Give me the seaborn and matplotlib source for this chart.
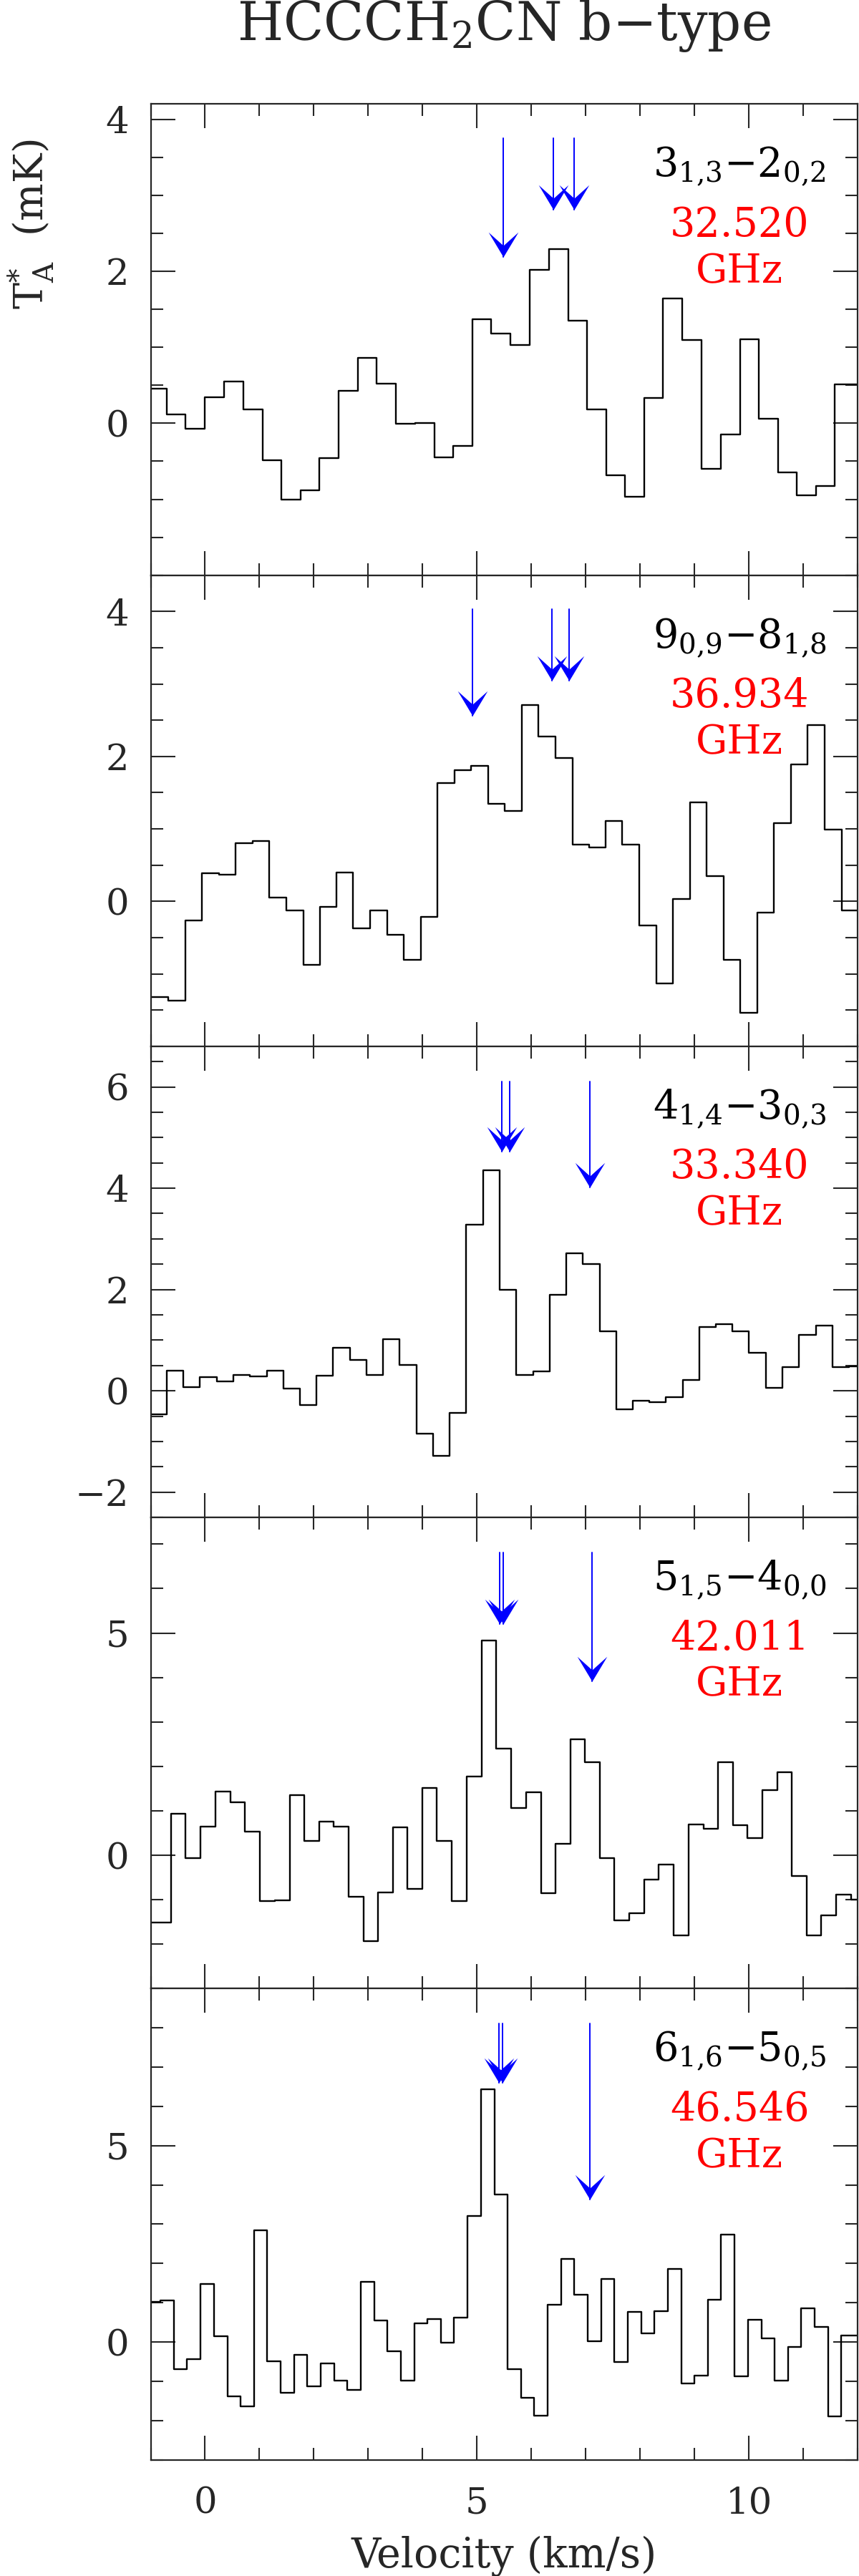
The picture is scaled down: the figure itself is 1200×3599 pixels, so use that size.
import numpy as np
import matplotlib
matplotlib.use("Agg")
from matplotlib import pyplot as plt
from matplotlib.path import Path
from matplotlib.ticker import MultipleLocator, FixedLocator
import seaborn as sns

# channel velocities (km/s) and antenna temperatures (mK)
vel_313 = [-0.88, -0.53, -0.18, 0.17, 0.53, 0.88, 1.23, 1.58, 1.93, 2.28, 2.63, 2.98, 3.33,
           3.69, 4.04, 4.39, 4.74, 5.09, 5.44, 5.79, 6.14, 6.50, 6.85, 7.20, 7.55, 7.90,
           8.25, 8.60, 8.95, 9.31, 9.66, 10.01, 10.36, 10.71, 11.06, 11.41, 11.76]
ta_313 = [0.455, 0.12, -0.07, 0.34, 0.55, 0.18, -0.49, -1.0, -0.88, -0.46, 0.43, 0.86, 0.52,
          -0.01, 0.0, -0.45, -0.30, 1.37, 1.18, 1.03, 2.02, 2.29, 1.35, 0.18, -0.68, -0.97,
          0.33, 1.64, 1.10, -0.60, -0.15, 1.11, 0.06, -0.65, -0.95, -0.83, 0.51]

vel_909 = [-0.83, -0.52, -0.21, 0.10, 0.41, 0.72, 1.03, 1.34, 1.65, 1.96, 2.26, 2.57, 2.88,
           3.19, 3.50, 3.81, 4.12, 4.43, 4.74, 5.05, 5.36, 5.67, 5.98, 6.29, 6.60, 6.91,
           7.22, 7.52, 7.83, 8.14, 8.45, 8.76, 9.07, 9.38, 9.69, 10.00, 10.31, 10.62,
           10.93, 11.24, 11.55, 11.86]
ta_909 = [-1.32, -1.37, -0.26, 0.39, 0.37, 0.80, 0.83, 0.05, -0.12, -0.88, -0.08, 0.40, -0.37,
          -0.12, -0.46, -0.81, -0.21, 1.63, 1.81, 1.87, 1.35, 1.25, 2.71, 2.28, 1.98, 0.78,
          0.74, 1.11, 0.78, -0.33, -1.13, 0.03, 1.37, 0.35, -0.81, -1.54, -0.15, 1.08,
          1.89, 2.43, 0.99, -0.12]

vel_414 = [-0.86, -0.55, -0.25, 0.06, 0.37, 0.67, 0.98, 1.29, 1.59, 1.90, 2.20, 2.51, 2.82,
           3.12, 3.43, 3.73, 4.04, 4.35, 4.65, 4.96, 5.26, 5.57, 5.88, 6.18, 6.49, 6.79,
           7.10, 7.41, 7.71, 8.02, 8.32, 8.63, 8.94, 9.24, 9.55, 9.85, 10.16, 10.47,
           10.77, 11.08, 11.38, 11.69, 12.00]
ta_414 = [-0.47, 0.40, 0.07, 0.27, 0.18, 0.31, 0.29, 0.40, 0.04, -0.28, 0.30, 0.85, 0.61,
          0.31, 1.02, 0.51, -0.85, -1.28, -0.44, 3.28, 4.36, 1.99, 0.31, 0.38, 1.90, 2.71,
          2.51, 1.17, -0.37, -0.19, -0.23, -0.13, 0.21, 1.26, 1.31, 1.18, 0.75, 0.06,
          0.47, 1.10, 1.29, 0.47, 0.48]

vel_515 = [-0.76, -0.49, -0.22, 0.06, 0.33, 0.60, 0.87, 1.14, 1.42, 1.69, 1.96, 2.23, 2.50,
           2.77, 3.05, 3.32, 3.59, 3.86, 4.13, 4.40, 4.68, 4.95, 5.22, 5.49, 5.76, 6.04,
           6.31, 6.58, 6.85, 7.12, 7.39, 7.67, 7.94, 8.21, 8.48, 8.75, 9.03, 9.30, 9.57,
           9.84, 10.11, 10.38, 10.66, 10.93, 11.20, 11.47, 11.74, 12.02]
ta_515 = [-1.52, 0.94, -0.07, 0.65, 1.43, 1.19, 0.53, -1.03, -1.01, 1.35, 0.32, 0.75, 0.65,
          -0.94, -1.94, -0.84, 0.63, -0.75, 1.52, 0.32, -1.03, 1.77, 4.83, 2.40, 1.07, 1.41,
          -0.85, 0.26, 2.61, 2.09, -0.07, -1.46, -1.30, -0.55, -0.21, -1.80, 0.70, 0.60,
          2.09, 0.68, 0.38, 1.47, 1.87, -0.47, -1.81, -1.36, -0.88, -1.0]

vel_616 = [-0.94, -0.70, -0.45, -0.21, 0.04, 0.29, 0.53, 0.78, 1.02, 1.27, 1.51, 1.76, 2.00,
           2.25, 2.50, 2.74, 2.99, 3.23, 3.48, 3.72, 3.97, 4.21, 4.46, 4.70, 4.95, 5.20,
           5.44, 5.69, 5.93, 6.18, 6.42, 6.67, 6.91, 7.16, 7.41, 7.65, 7.90, 8.14, 8.39,
           8.63, 8.88, 9.12, 9.37, 9.61, 9.86, 10.11, 10.35, 10.60, 10.84, 11.09, 11.33,
           11.58, 11.82]
ta_616 = [1.02, 1.06, -0.70, -0.43, 1.48, 0.14, -1.38, -1.65, 2.85, -0.49, -1.30, -0.32, -1.14,
          -0.54, -0.99, -1.22, 1.53, 0.55, -0.24, -0.98, 0.48, 0.59, -0.02, 0.61, 3.21, 6.43,
          3.76, -0.69, -1.43, -1.88, 0.95, 2.12, 1.20, 0.02, 1.60, -0.51, 0.77, 0.22, 0.79,
          1.86, -1.06, -0.85, 1.07, 2.73, -0.87, 0.57, 0.09, -0.98, -0.12, 0.85, 0.39,
          -1.90, 0.17]

transitions = [r"$3_{1{,}3}$−$2_{0{,}2}$", r"$9_{0{,}9}$−$8_{1{,}8}$", r"$4_{1{,}4}$−$3_{0{,}3}$",
               r"$5_{1{,}5}$−$4_{0{,}0}$", r"$6_{1{,}6}$−$5_{0{,}5}$"]
frequencies = ["32.520", "36.934", "33.340", "42.011", "46.546"]

# predicted line positions (arrows): x, arrow top, arrow tip
arrow_x = [[5.49, 6.40, 6.79], [4.92, 6.38, 6.69], [5.46, 5.60, 7.07],
           [5.42, 5.48, 7.11], [5.41, 5.47, 7.07]]
arrow_top = [3.75, 4.03, 6.11, 6.82, 8.11]
arrow_tip = [[2.19, 2.81, 2.81], [2.56, 3.05, 3.05], [4.72, 4.72, 4.01],
             [5.21, 5.21, 3.91], [6.60, 6.60, 3.62]]

ylims = [(-2, 4.2), (-2, 4.5), (-2.5, 6.8), (-3, 7.6), (-3, 9)]
ymajor = [[0, 2, 4], [0, 2, 4], [-2, 0, 2, 4, 6], [0, 5], [0, 5]]
yminor = [0.5, 0.5, 0.5, 1, 1]

spectra = [(vel_313, ta_313), (vel_909, ta_909), (vel_414, ta_414),
           (vel_515, ta_515), (vel_616, ta_616)]

sns.set_theme(style="ticks")
plt.rcParams["font.family"] = ["DejaVu Serif"]
plt.rcParams["mathtext.fontset"] = "dejavuserif"
plt.rcParams["axes.linewidth"] = 1.6

xmin, xmax = -1, 12

head = Path([(0, 0), (-0.6, 1), (0, 0.46), (0.6, 1), (0, 0)],
            [Path.MOVETO, Path.LINETO, Path.LINETO, Path.LINETO, Path.CLOSEPOLY])

fig = plt.figure(figsize=(12, 35.99), dpi=100)
left, width = 210.5 / 1200, 987.5 / 1200
bottom0, height = 1 - 3436.5 / 3599, 658.2 / 3599

for i, (vel, ta) in enumerate(spectra):
    ax = fig.add_axes([left, bottom0 + (4 - i) * height, width, height])
    vel = np.asarray(vel)
    ta = np.asarray(ta)
    mids = (vel[:-1] + vel[1:]) / 2
    edges = np.concatenate([[vel[0] - (vel[1] - vel[0]) / 2], mids,
                            [vel[-1] + (vel[-1] - vel[-2]) / 2]])
    edges[0] = min(edges[0], xmin)
    edges[-1] = max(edges[-1], xmax)
    xs = np.repeat(edges, 2)[1:-1]
    ys = np.repeat(ta, 2)
    sns.lineplot(x=xs, y=ys, sort=False, estimator=None, color="black",
                 linewidth=1.7, ax=ax)

    for x, tip in zip(arrow_x[i], arrow_tip[i]):
        ax.plot([x, x], [arrow_top[i], tip], color="blue", lw=1.4, zorder=4)
        ax.plot([x], [tip], marker=head, ms=50, color="blue", mew=0,
                ls="none", zorder=5)

    ax.text(0.833, 1 - 101.5 / 658.2, transitions[i], transform=ax.transAxes,
            ha="center", va="baseline", fontsize=40, color="black")
    ax.text(0.833, 1 - 184.5 / 658.2, frequencies[i], transform=ax.transAxes,
            ha="center", va="baseline", fontsize=40, color="red")
    ax.text(0.833, 1 - 249.5 / 658.2, "GHz", transform=ax.transAxes,
            ha="center", va="baseline", fontsize=40, color="red")

    ax.set_xlim(xmin, xmax)
    ax.set_ylim(*ylims[i])
    ax.xaxis.set_major_locator(MultipleLocator(5))
    ax.xaxis.set_minor_locator(MultipleLocator(1))
    ax.yaxis.set_major_locator(FixedLocator(ymajor[i]))
    ax.yaxis.set_minor_locator(MultipleLocator(yminor[i]))
    ax.tick_params(which="both", direction="in", top=True, right=True,
                   width=1.5, labelsize=37)
    ax.tick_params(which="major", length=24.5)
    ax.tick_params(which="minor", length=12.5)
    ax.tick_params(axis="y", pad=22)
    ax.tick_params(axis="x", pad=26)
    ax.set_xlabel("")
    ax.set_ylabel("")
    if i < 4:
        ax.tick_params(axis="x", labelbottom=False)

fig.text(704 / 1200, 1 - 56 / 3599, r"HCCCH$_2$CN b−type", ha="center",
         va="baseline", fontsize=53)
fig.text(78 / 1200, 1 - 313 / 3599, r"T$_\mathrm{A}^{*}$  (mK)", rotation=90,
         ha="right", va="center", fontsize=40)
fig.text(704 / 1200, 1 - 3587 / 3599, "Velocity (km/s)", ha="center",
         va="baseline", fontsize=41)

fig.savefig("out.png", dpi=100)
